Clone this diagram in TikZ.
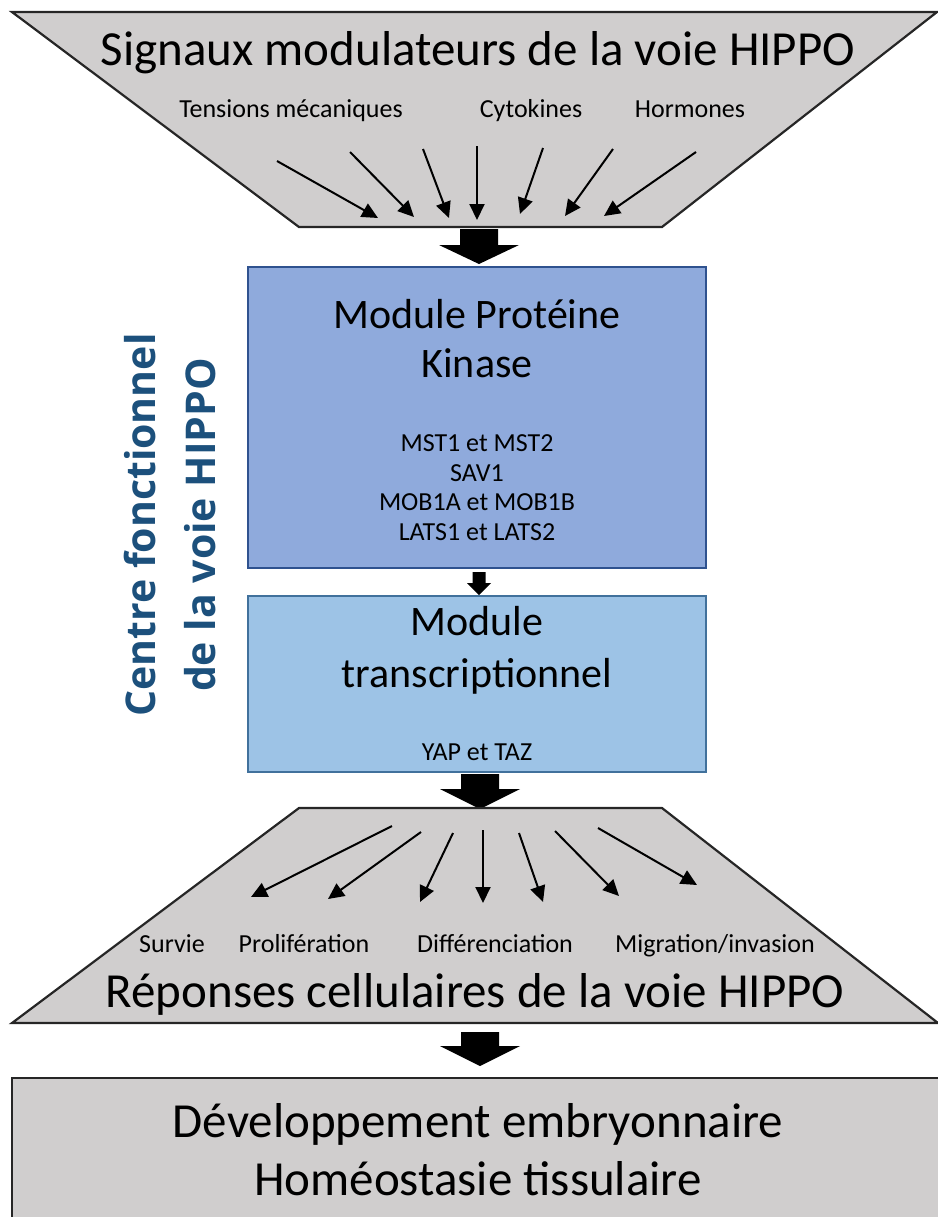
\documentclass[tikz,border=0pt]{standalone}
\usepackage{fontspec}
\setmainfont{Carlito}
\newfontfamily\vfont{Open Sans}
\usetikzlibrary{arrows.meta}
\definecolor{grayfill}{RGB}{208,206,206}
\definecolor{kfill}{RGB}{143,170,220}
\definecolor{kdraw}{RGB}{47,82,143}
\definecolor{tfill}{RGB}{157,195,230}
\definecolor{tdraw}{RGB}{65,113,156}
\definecolor{vtext}{RGB}{28,80,124}
\tikzset{
  zone/.style={fill=grayfill, draw=black!85, line width=1.1pt, line join=miter},
  thinarrow/.style={line width=1pt, -{Triangle[length=8pt,width=7.5pt]}},
  bigtxt/.style={font=\fontsize{24.5}{29}\selectfont, anchor=base, inner sep=0pt},
  midtxt/.style={font=\fontsize{21}{25}\selectfont, anchor=base, inner sep=0pt},
  smalltxt/.style={font=\fontsize{13}{15}\selectfont, anchor=base, inner sep=0pt},
  kbox/.style={fill=kfill, draw=kdraw, line width=1.1pt, minimum width=229pt, minimum height=150.5pt, inner sep=0pt},
  tbox/.style={fill=tfill, draw=tdraw, line width=1.1pt, minimum width=229pt, minimum height=88pt, inner sep=0pt},
  blockarrow/.style={fill=black, draw=none},
}
\begin{document}
\begin{tikzpicture}[x=0.5pt,y=-0.5pt]
\useasboundingbox (0,0) rectangle (938,1217);
\clip (0,0) rectangle (938,1217);

% ---------- top zone ----------
\draw[zone] (12,12) -- (937,12) -- (662,227) -- (299,227) -- cycle;
\node[bigtxt] (title) at (478,65) {Signaux modulateurs de la voie HIPPO};
\node[smalltxt] (tens) at (291,117) {Tensions mécaniques};
\node[smalltxt] (cyto) at (531,117) {Cytokines};
\node[smalltxt] (horm) at (690,117) {Hormones};

\coordinate (s1) at (277,161); \coordinate (e1) at (378,218);
\coordinate (s2) at (350,152); \coordinate (e2) at (414,217);
\coordinate (s3) at (423,149); \coordinate (e3) at (449,218);
\coordinate (s4) at (477,146); \coordinate (e4) at (477,220);
\coordinate (s5) at (543,148); \coordinate (e5) at (520,214);
\coordinate (s6) at (613,149); \coordinate (e6) at (565,216);
\coordinate (s7) at (696,152); \coordinate (e7) at (604,216);
\foreach \i in {1,...,7} \draw[thinarrow] (s\i) -- (e\i);

% block arrow 1
\coordinate (a1) at (479,229);
\fill[blockarrow] (a1) ++(-19,0) -- ++(38,0) -- ++(0,16) -- ++(21,0) -- ++(-40,19) -- ++(-40,-19) -- ++(21,0) -- cycle;

% ---------- central modules ----------
\node[kbox] (kin) at (477,417.5) {};
\node[midtxt] (kin1) at (477,328) {Module Protéine};
\node[midtxt] (kin2) at (477,377) {Kinase};
\node[smalltxt] (l1) at (477,451) {MST1 et MST2};
\node[smalltxt] (l2) at (477,481) {SAV1};
\node[smalltxt] (l3) at (477,510) {MOB1A et MOB1B};
\node[smalltxt] (l4) at (477,540) {LATS1 et LATS2};

\coordinate (a2) at (479,572);
\fill[blockarrow] (a2) ++(-6.5,0) -- ++(13,0) -- ++(0,11) -- ++(5.5,0) -- ++(-12,12) -- ++(-12,-12) -- ++(5.5,0) -- cycle;

\node[tbox] (tr) at (477,684) {};
\node[midtxt] (tr1) at (477,635) {Module};
\node[midtxt] (tr2) at (477,687) {transcriptionnel};
\node[smalltxt] (yt) at (477,760) {YAP et TAZ};

\node[rotate=90, align=center, text=vtext, font=\vfont\bfseries\fontsize{20.5}{30}\selectfont, inner sep=0pt] (centre) at (170,525) {Centre fonctionnel\\de la voie HIPPO};

% block arrow 3
\coordinate (a3) at (480,774);
\fill[blockarrow] (a3) ++(-19,0) -- ++(38,0) -- ++(0,15) -- ++(21,0) -- ++(-40,20) -- ++(-40,-20) -- ++(21,0) -- cycle;

% ---------- lower zone ----------
\draw[zone] (299,808) -- (662,808) -- (938,1023) -- (12,1023) -- cycle;
\coordinate (u1) at (392,826); \coordinate (v1) at (251,897);
\coordinate (u2) at (421,832); \coordinate (v2) at (328,899);
\coordinate (u3) at (453,833); \coordinate (v3) at (420,902);
\coordinate (u4) at (483,830); \coordinate (v4) at (483,903);
\coordinate (u5) at (519,833); \coordinate (v5) at (543,902);
\coordinate (u6) at (555,831); \coordinate (v6) at (619,896);
\coordinate (u7) at (598,828); \coordinate (v7) at (697,885);
\foreach \i in {1,...,7} \draw[thinarrow] (u\i) -- (v\i);
\node[smalltxt] (surv) at (172,952) {Survie};
\node[smalltxt] (prol) at (304,952) {Prolifération};
\node[smalltxt] (diff) at (495,952) {Différenciation};
\node[smalltxt] (migr) at (715,952) {Migration/invasion};
\node[bigtxt] (rep) at (475,1007) {Réponses cellulaires de la voie HIPPO};

% block arrow 4
\coordinate (a4) at (480,1032);
\fill[blockarrow] (a4) ++(-19,0) -- ++(38,0) -- ++(0,14) -- ++(21,0) -- ++(-40,20) -- ++(-40,-20) -- ++(21,0) -- cycle;

% ---------- bottom box ----------
\draw[zone] (12,1078) rectangle (960,1240);
\node[bigtxt] (dev) at (478,1137) {Développement embryonnaire};
\node[bigtxt] (hom) at (478,1195) {Homéostasie tissulaire};
\end{tikzpicture}
\end{document}
